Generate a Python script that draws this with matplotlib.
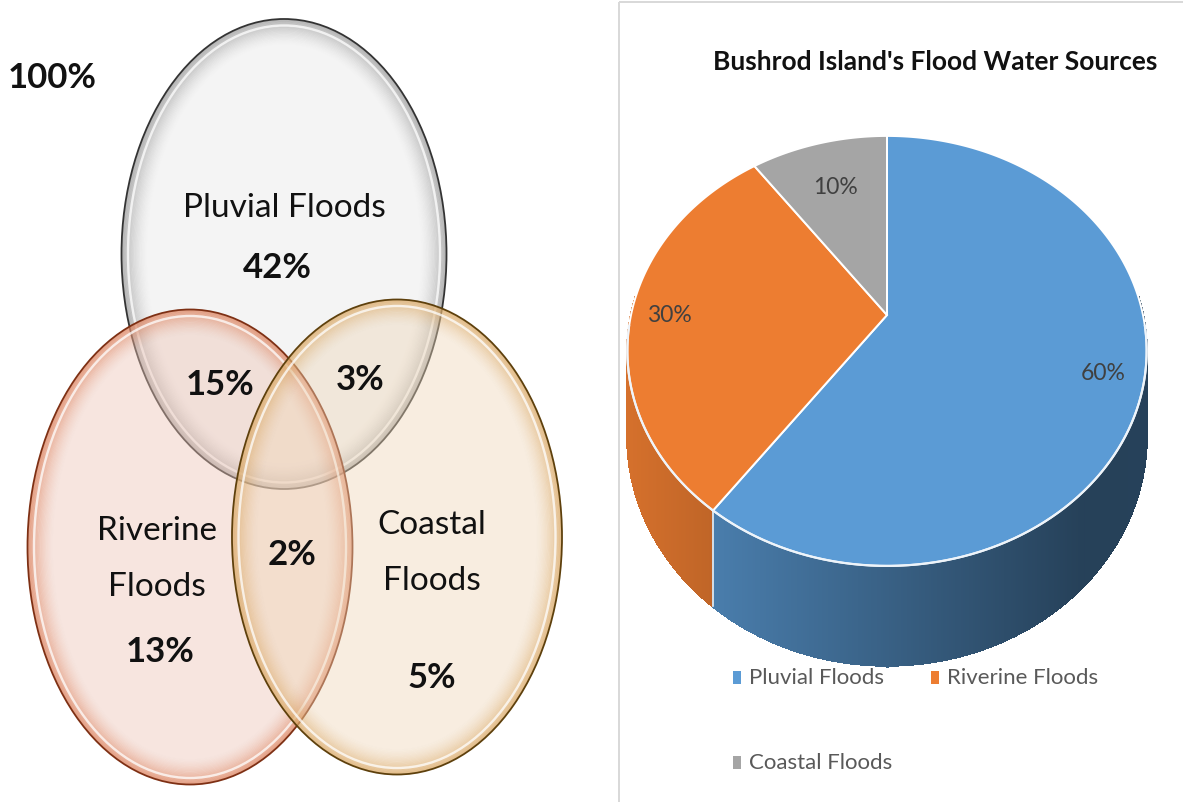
import numpy as np
import matplotlib
matplotlib.use("Agg")
import matplotlib.pyplot as plt
from matplotlib.patches import Ellipse, Polygon, Rectangle
from matplotlib.collections import PolyCollection
from matplotlib.colors import to_rgb

plt.rcParams['font.family'] = ['Lato', 'DejaVu Sans']

# ---- Venn diagram data ----
venn_total = "100%"
venn_names = ["Pluvial Floods", "Riverine\nFloods", "Coastal\nFloods"]
venn_only = [42, 13, 5]
pair_names = ["Pluvial & Riverine", "Pluvial & Coastal", "Riverine & Coastal"]
pair_values = [15, 3, 2]

# ---- Pie chart data ----
pie_title = "Bushrod Island's Flood Water Sources"
pie_categories = ["Pluvial Floods", "Riverine Floods", "Coastal Floods"]
pie_values = [60, 30, 10]
pie_colors = ["#5b9bd5", "#ed7d31", "#a5a5a5"]

PX = 0.72  # points per pixel at 100 dpi

fig = plt.figure(figsize=(11.83, 8.03), dpi=100)
ax = fig.add_axes([0, 0, 1, 1])
ax.set_xlim(0, 1183)
ax.set_ylim(803, 0)
ax.axis("off")


def glossy_ellipse(cx, cy, w, h, fill, fill_alpha, rim, edge, z):
    ax.add_patch(Ellipse((cx, cy), w, h, facecolor=fill, alpha=fill_alpha,
                         edgecolor="none", zorder=z))
    depth = 26.0
    for d in np.arange(1, depth, 1.2):
        a = 0.6 * (1 - d / depth) ** 1.6
        ax.add_patch(Ellipse((cx, cy), w - 2 * d, h - 2 * d, fill=False,
                             edgecolor=rim, alpha=a, lw=1.4 * PX, zorder=z + 0.1))
    ax.add_patch(Ellipse((cx, cy), w - 13, h - 13, fill=False, edgecolor="white",
                         alpha=0.75, lw=2.4 * PX, zorder=z + 0.2))
    ax.add_patch(Ellipse((cx, cy), w, h, fill=False, edgecolor=edge,
                         lw=1.8 * PX, zorder=z + 0.3))


# circles: pluvial, riverine, coastal
circles = [
    ((284, 255), 325, 470, "#dcdcdc", 0.3, "#8c8c8c", "#333333"),
    ((190, 548), 325, 475, "#eec3b3", 0.42, "#d9734a", "#7e3014"),
    ((397, 538), 330, 475, "#efd6b6", 0.42, "#d69e52", "#5e400c"),
]
for i, (c, w, h, fc, fa, rc, ec) in enumerate(circles):
    glossy_ellipse(c[0], c[1], w, h, fc, fa, rc, ec, 1 + i)

txt = dict(color="#111111", ha="center", va="center", zorder=10)
ax.text(52, 78, venn_total, fontsize=25, fontweight="bold", **txt)

# single-set labels
name_xy = [(284, 208), (157, 559), (432, 553)]
value_xy = [(277, 268), (160, 652), (432, 678)]
for name, val, nxy, vxy in zip(venn_names, venn_only, name_xy, value_xy):
    ax.text(nxy[0], nxy[1], name, fontsize=24, linespacing=2.05, **txt)
    ax.text(vxy[0], vxy[1], f"{val}%", fontsize=25, fontweight="bold", **txt)

pair_xy = [(220, 385), (360, 380), (292, 555)]
for val, pxy in zip(pair_values, pair_xy):
    ax.text(pxy[0], pxy[1], f"{val}%", fontsize=25, fontweight="bold", **txt)

# ---- right panel frame ----
ax.add_patch(Rectangle((619, 3), 600, 820, fill=False, edgecolor="#d9d9d9",
                       lw=2 * PX, zorder=0.5))

ax.text(935, 62, pie_title, fontsize=19, fontweight="bold", color="#111111",
        ha="center", va="center", zorder=10)

# ---- 3-D pie (perspective projection of a disc) ----
pcx, pcy = 887, 316
A, B, P, T = 256, 209, 0.167, 83


def proj(r, phi):
    t = np.radians(phi)
    u, v = r * np.cos(t), r * np.sin(t)
    D = 1 + P * v
    return pcx + A * u / D, pcy - B * v / D, D


total = float(sum(pie_values))
bounds = 90 - np.concatenate([[0], np.cumsum(pie_values)]) / total * 360.0


def slice_index(phi):
    a = (90 - phi) % 360
    edges = np.cumsum(pie_values) / total * 360.0
    return int(np.searchsorted(edges, a, side="right"))


def side_shade(x):
    t = (x - 627) / (1148 - 627)
    f = 0.9 - 0.55 * t
    if t > 0.88:
        f += (t - 0.88) * 0.6
    return max(f, 0.38)


phis = np.linspace(175, 365, 500)
quads, cols = [], []
for p0, p1 in zip(phis[:-1], phis[1:]):
    x0, y0, d0 = proj(1, p0)
    x1, y1, d1 = proj(1, p1)
    k = min(slice_index(0.5 * (p0 + p1)), len(pie_values) - 1)
    base = np.array(to_rgb(pie_colors[k]))
    cols.append(np.clip(base * side_shade(0.5 * (x0 + x1)), 0, 1))
    quads.append([(x0, y0), (x1, y1), (x1, y1 + T / d1), (x0, y0 + T / d0)])
ax.add_collection(PolyCollection(quads, facecolors=cols, edgecolors=cols,
                                 linewidths=1.0, antialiased=False, zorder=3))

# white seam on the side where slices meet
for b in bounds:
    bb = b % 360
    if 180 < bb < 360:
        x, y, d = proj(1, bb)
        ax.plot([x, x], [y, y + T / d], color="#f4f4f4", lw=1.6 * PX, zorder=3.5)

# top faces
for k in range(len(pie_values)):
    arc = np.linspace(bounds[k], bounds[k + 1], 200)
    pts = [(pcx, pcy)] + [proj(1, a)[:2] for a in arc]
    ax.add_patch(Polygon(pts, closed=True, facecolor=pie_colors[k],
                         edgecolor="white", lw=2.0 * PX, zorder=4))

# light rim along the front edge of the top face
rim = np.linspace(183, 357, 200)
rx, ry = zip(*[proj(1, a)[:2] for a in rim])
ax.plot(rx, ry, color="#eef4fa", lw=2.2 * PX, zorder=4.5)

# data labels
label_r = [0.85, 0.85, 0.72]
for k, val in enumerate(pie_values):
    mid = 0.5 * (bounds[k] + bounds[k + 1])
    x, y, _ = proj(label_r[k], mid)
    ax.text(x, y, f"{val}%", fontsize=16.5, color="#404040",
            ha="center", va="center", zorder=6)

# legend
legend_xy = [(737, 678), (935, 678), (737, 763)]
for (lx, ly), name, col in zip(legend_xy, pie_categories, pie_colors):
    ax.add_patch(Rectangle((lx - 4, ly - 6), 8, 13, facecolor=col,
                           edgecolor="none", zorder=2))
    ax.text(lx + 12, ly, name, fontsize=16, color="#595959",
            ha="left", va="center", zorder=2)

fig.savefig("out.png", dpi=100)
